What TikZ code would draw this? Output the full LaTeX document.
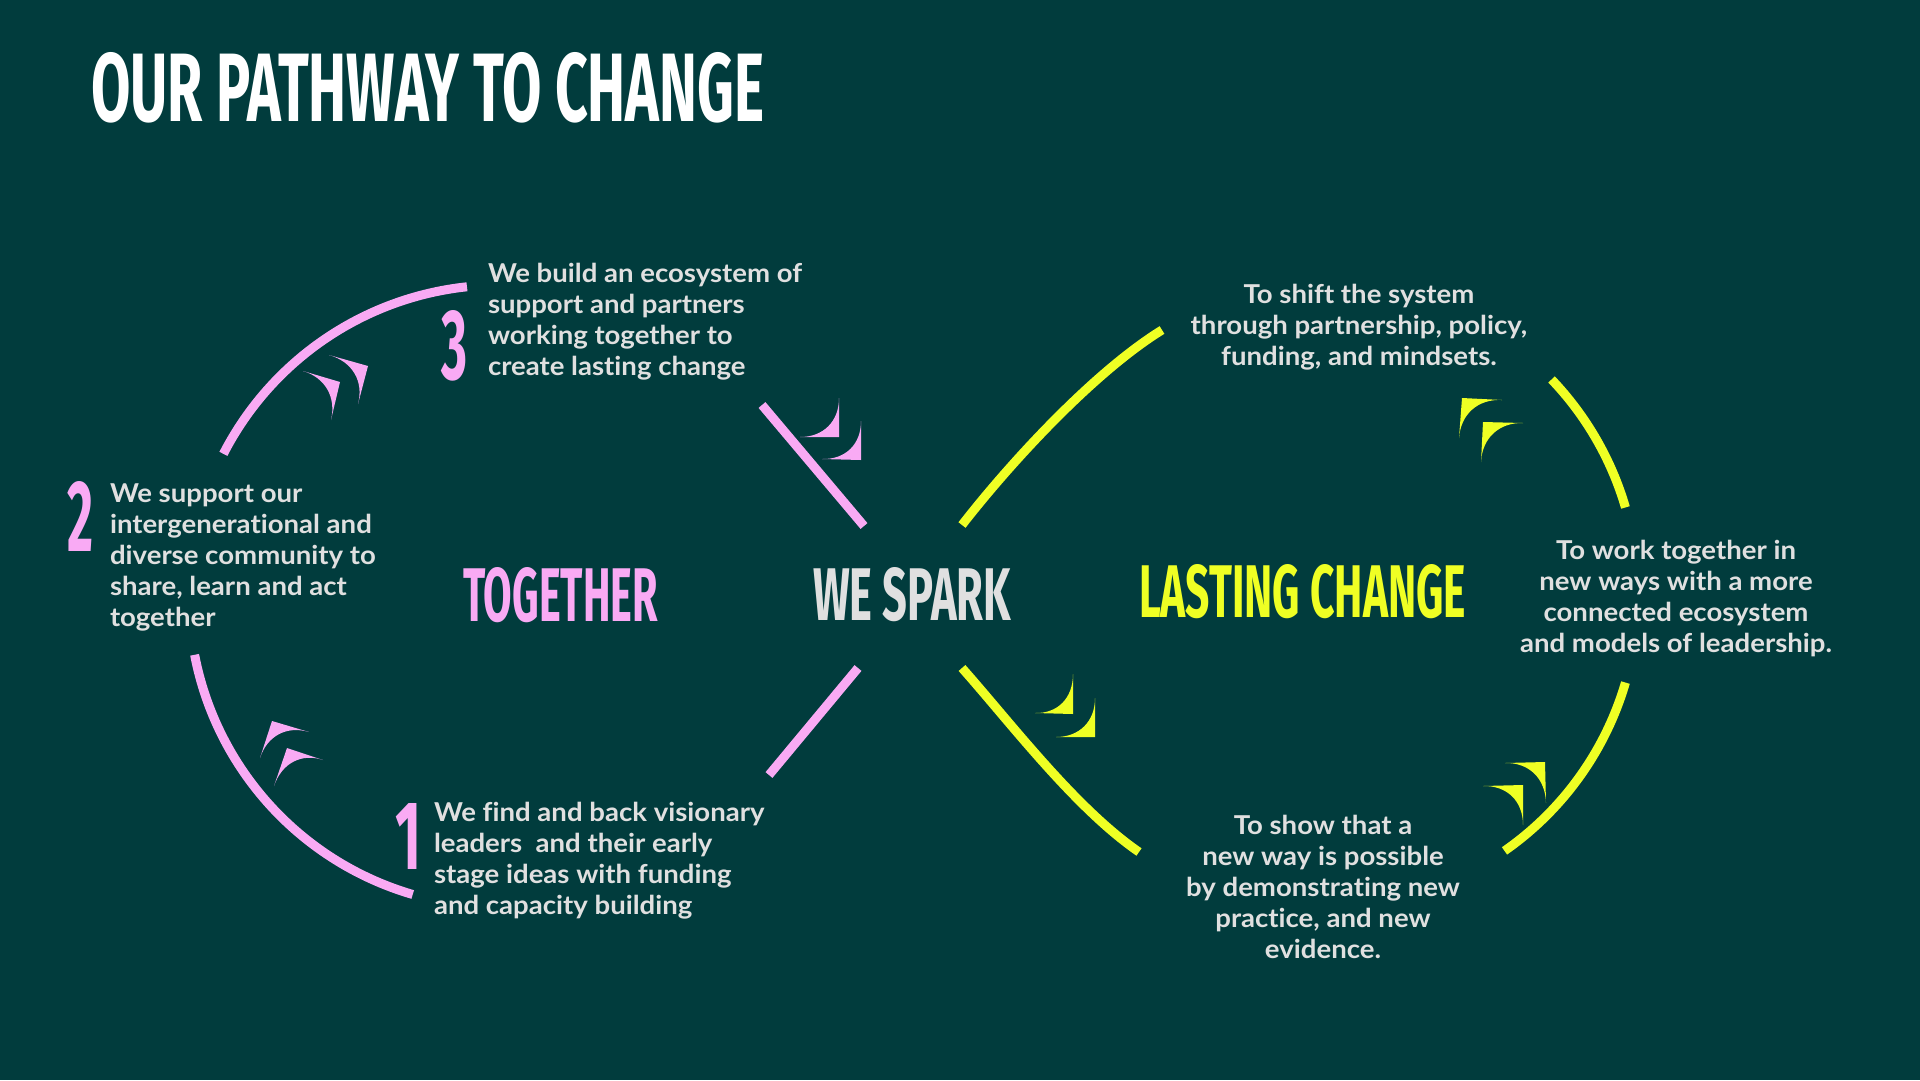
\documentclass[tikz,border=0pt]{standalone}
\usepackage{fontspec}
\usepackage{graphicx}
\usetikzlibrary{calc}
\setmainfont{Lato}[FakeStretch=1.06,Ligatures=NoCommon]
\newfontfamily\headfont{Fira Sans}
\definecolor{bgteal}{HTML}{013C3D}
\definecolor{sparkpink}{HTML}{F9AAF4}
\definecolor{sparkyellow}{HTML}{EFFF24}
\definecolor{lightgrey}{HTML}{E0E0E0}
\newcommand{\barb}[4]{\fill[#1] (#3) -- (#2) -- (#4) .. controls ($(#4)!0.6!(#2)$) and ($(#3)!0.6!(#2)$) .. (#3) -- cycle;}
\newcommand{\fitcaps}[3]{\resizebox{#1pt}{#2pt}{\headfont\bfseries #3}}

\begin{document}
\begin{tikzpicture}[x=1pt,y=-1pt,
  pinkline/.style={draw=sparkpink,line width=9pt},
  yellowline/.style={draw=sparkyellow,line width=9pt},
  txt/.style={inner sep=0pt,outer sep=0pt,text=lightgrey,font=\bfseries\fontsize{26}{31}\selectfont},
  big/.style={inner sep=0pt,outer sep=0pt}]
\fill[bgteal] (0,0) rectangle (1920,1080);
\useasboundingbox (0,0) rectangle (1920,1080);

\node[big,anchor=north west,text=white] (title) at (91,52) {\fitcaps{673}{69}{OUR PATHWAY TO CHANGE}};

\draw[pinkline] (500,596) ++(207.2:311) arc[start angle=207.2, end angle=263.9, radius=311];
\draw[pinkline] (500,596) ++(169.1:311) arc[start angle=169.1, end angle=106.3, radius=311];
\draw[pinkline] (762,405) -- (864,526);
\draw[pinkline] (858,668) -- (769,775);

\draw[yellowline] (962,525) .. controls (1011,462) and (1094,372) .. (1162,330);
\draw[yellowline] (1326,595) ++(-43.7:312) arc[start angle=-43.7, end angle=-16.3, radius=312];
\draw[yellowline] (1326,595) ++(16.3:312) arc[start angle=16.3, end angle=55.1, radius=312];
\draw[yellowline] (962,668) .. controls (1010,722) and (1075,808) .. (1139,852);

\barb{sparkpink}{340,382}{303,371}{331,420}
\barb{sparkpink}{368,366}{329,355}{358,404}
\barb{sparkpink}{839,437}{839,398}{800,437}
\barb{sparkpink}{861,460}{861,421}{822,459}
\barb{sparkpink}{272,721}{309,732}{260,758}
\barb{sparkpink}{287,748}{323,760}{274,786}
\barb{sparkyellow}{1462,398}{1502,400}{1459,438}
\barb{sparkyellow}{1483,422}{1523,423}{1481,462}
\barb{sparkyellow}{1073,714}{1073,674}{1035,713}
\barb{sparkyellow}{1095,737}{1095,698}{1056,737}
\barb{sparkyellow}{1523,785}{1483,786}{1523,825}
\barb{sparkyellow}{1545,762}{1505,763}{1546,803}

\node[big,anchor=north west,text=sparkpink] (together) at (463,567) {\fitcaps{195}{54}{TOGETHER}};
\node[big,anchor=north west,text=lightgrey] (spark) at (813,567) {\fitcaps{198}{53}{WE SPARK}};
\node[big,anchor=north west,text=sparkyellow] (lasting) at (1139,564) {\fitcaps{327}{53}{LASTING CHANGE}};

\node[big,anchor=north,text=sparkpink] (num3) at (454,310) {\fitcaps{26}{69}{3}};
\node[big,anchor=north,text=sparkpink] (num2) at (80,481) {\fitcaps{26}{70}{2}};
\node[big,anchor=north,text=sparkpink] (num1) at (408,803) {\fitcaps{26}{66}{1}};

\node[txt,anchor=north west,align=left] (step3) at (488,263) {We build an ecosystem of\\support and partners\\working together to\\create lasting change};
\node[txt,anchor=north west,align=left] (step2) at (110,484) {We support our\\intergenerational and\\diverse community to\\share, learn and act\\together};
\node[txt,anchor=north west,align=left] (step1) at (434,802) {We find and back visionary\\leaders~ and their early\\stage ideas with funding\\and capacity building};

\node[txt,anchor=north,align=center] (shift) at (1359,284) {To shift the system\\through partnership, policy,\\funding, and mindsets.};
\node[txt,anchor=north,align=center] (work) at (1676,540) {To work together in\\new ways with a more\\connected ecosystem\\and models of leadership.};
\node[txt,anchor=north,align=center] (show) at (1323,815) {To show that a\\new way is possible\\by demonstrating new\\practice, and new\\evidence.};
\end{tikzpicture}
\end{document}
